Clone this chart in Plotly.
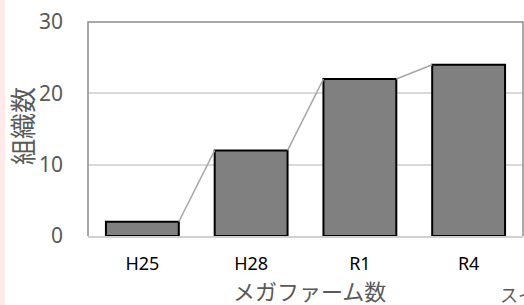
import plotly.graph_objects as go

categories = ["H25", "H28", "R1", "R4"]
values = [2, 12, 22, 24]
y_ticks = [0, 10, 20, 30]

W, H = 524, 305
ML, MR, MT, MB = 88, 1, 22, 69
PW = W - ML - MR
PH = H - MT - MB
BAR_W = 0.67

def px_x(px):
    return (px - ML) / PW

def px_y(py):
    return (H - MB - py) / PH

xs = list(range(len(categories)))

fig = go.Figure()
fig.add_trace(go.Bar(
    x=xs, y=values, width=BAR_W,
    marker=dict(color="#808080", line=dict(color="#000000", width=2)),
    showlegend=False, hoverinfo="skip",
))

# series lines connecting bar tops
for i in range(len(values) - 1):
    fig.add_trace(go.Scatter(
        x=[xs[i] + BAR_W / 2, xs[i + 1] - BAR_W / 2],
        y=[values[i], values[i + 1]],
        mode="lines", line=dict(color="#a6a6a6", width=1.5),
        showlegend=False, hoverinfo="skip",
    ))

fig.update_layout(
    width=W, height=H,
    margin=dict(l=ML, r=MR, t=MT, b=MB),
    paper_bgcolor="white", plot_bgcolor="white",
    xaxis=dict(
        range=[-0.5, len(categories) - 0.5],
        tickvals=xs, ticktext=categories,
        tickfont=dict(family="Noto Sans, Noto Sans CJK JP", size=18, color="#000000"),
        showgrid=False, zeroline=False,
        showline=True, linecolor="#d0d0d0", linewidth=2,
        ticks="", ticklabelstandoff=10,
    ),
    yaxis=dict(
        range=[0, 30], tickvals=y_ticks,
        tickfont=dict(family="Noto Sans, Noto Sans CJK JP", size=21, color="#595959"),
        showgrid=True, gridcolor="#d9d9d9", gridwidth=2,
        zeroline=False, showline=False, ticks="", ticklabelstandoff=24,
    ),
    shapes=[
        dict(type="rect", xref="paper", yref="paper",
             x0=px_x(0), x1=px_x(5), y0=px_y(H), y1=px_y(0),
             fillcolor="#ffe9e9", line=dict(width=0), layer="below"),
        dict(type="path", xref="paper", yref="paper",
             path="M 0 0 L 0 1 L 1 1 L 1 0",
             line=dict(color="#8c8c8c", width=1.5), layer="above"),
    ],
    annotations=[
        dict(text="組織数", xref="paper", yref="paper",
             x=px_x(21), y=px_y(126), textangle=-90, showarrow=False,
             xanchor="center", yanchor="middle",
             font=dict(family="Noto Sans CJK JP", size=26, color="#595959")),
        dict(text="メガファーム数", xref="paper", yref="paper",
             x=px_x(309), y=px_y(290), showarrow=False,
             xanchor="center", yanchor="middle",
             font=dict(family="Noto Sans CJK JP", size=22, color="#595959")),
        dict(text="スイートコーン", xref="paper", yref="paper",
             x=px_x(498), y=px_y(294), showarrow=False,
             xanchor="left", yanchor="middle",
             font=dict(family="Noto Sans CJK JP", size=18, color="#595959")),
    ],
)

fig.write_html("out.html", config={"displayModeBar": False},
               post_script="document.body.style.margin='0';document.body.style.overflow='hidden';")
